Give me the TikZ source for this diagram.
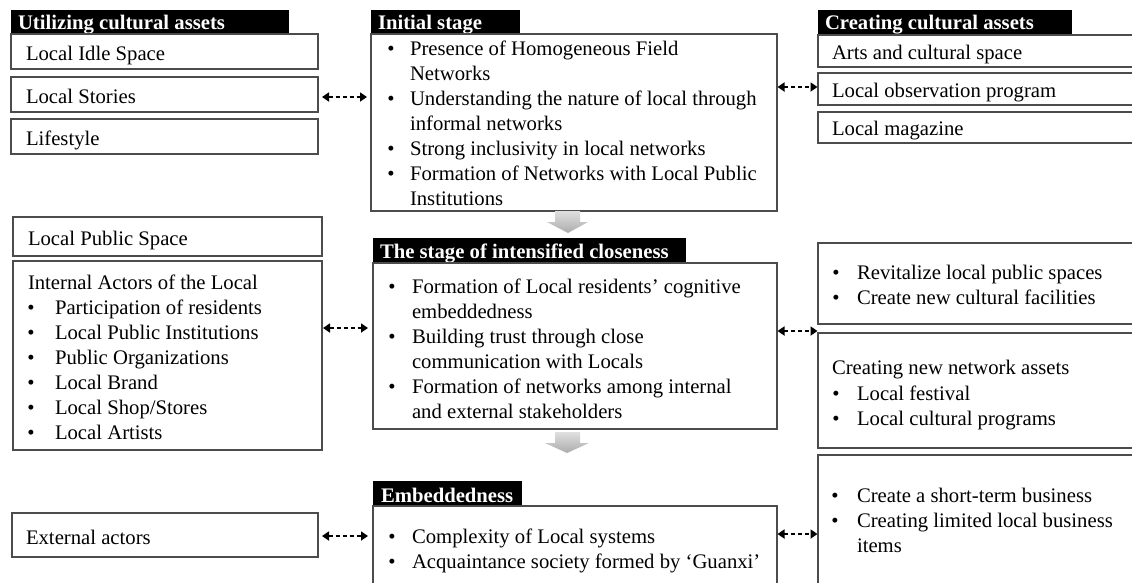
\documentclass[tikz,border=0pt]{standalone}
\usepackage{fontspec}
\setmainfont{Liberation Serif}
\usetikzlibrary{fit,arrows.meta}
\tikzset{
  box/.style={draw=black!70, line width=1.2pt, inner sep=0pt, outer sep=0pt},
  hdrbox/.style={fill=black, draw=none, inner sep=0pt, outer sep=0pt},
  txt/.style={inner sep=0pt, outer sep=0pt, anchor=base west, font=\fontsize{20.7}{25}\selectfont},
  htxt/.style={txt, text=white, font=\fontsize{20.7}{25}\selectfont\bfseries},
  bul/.style={inner sep=0pt, outer sep=0pt, anchor=base, font=\fontsize{20.7}{25}\selectfont},
  dar/.style={{Triangle[length=7pt,width=9pt]}-{Triangle[length=7pt,width=9pt]}, line width=1.8pt, dash pattern=on 4pt off 3pt},
  garrow/.style={top color=gray!25, bottom color=gray!65, draw=none}
}
\newcommand{\bx}[5]{\node[box, fit={(#2,#3) (#4,#5)}] (#1) {};}
\newcommand{\hb}[5]{\node[hdrbox, fit={(#2,#3) (#4,#5)}] (#1) {};}
\begin{document}
\begin{tikzpicture}[x=1pt, y=-1pt]
\useasboundingbox (0,0) rectangle (1132,582);
\clip (0,0) rectangle (1132,582);
% ---------- left column
\hb{hutil}{11}{10}{289}{34}
\node[htxt] (thutil) at (18,29) {Utilizing cultural assets};
\bx{idle}{11}{34}{318}{69}
\node[txt] (tidle) at (26,60) {Local Idle Space};
\bx{stories}{11}{77}{318}{112}
\node[txt] (tstories) at (26,103) {Local Stories};
\bx{life}{11}{119}{318}{154}
\node[txt] (tlife) at (26,145) {Lifestyle};

\bx{pubspace}{13}{217}{322}{256}
\node[txt] (tpub) at (28,245) {Local Public Space};
\bx{internal}{13}{261}{322}{450}
\node[txt] (tint) at (28,289) {Internal Actors of the Local};
\foreach \t [count=\i] in {Participation of residents, Local Public Institutions, Public Organizations, Local Brand, Local Shop/Stores, Local Artists}{
  \node[bul] (bi\i) at (31,289+25*\i) {•};
  \node[txt] (ti\i) at (55,289+25*\i) {\t};
}
\bx{external}{12}{513}{318}{557}
\node[txt] (text) at (26,544) {External actors};

% ---------- middle column
\hb{hinit}{371}{10}{520}{34}
\node[htxt] (thinit) at (378,29) {Initial stage};
\bx{initial}{371}{34}{777}{211}
\node[bul] (bn1) at (391,55) {•};
\node[txt] (tn1) at (410,55) {Presence of Homogeneous Field};
\node[txt] (tn1b) at (410,80) {Networks};
\node[bul] (bn2) at (391,105) {•};
\node[txt] (tn2) at (410,105) {Understanding the nature of local through};
\node[txt] (tn2b) at (410,130) {informal networks};
\node[bul] (bn3) at (391,155) {•};
\node[txt] (tn3) at (410,155) {Strong inclusivity in local networks};
\node[bul] (bn4) at (391,180) {•};
\node[txt] (tn4) at (410,180) {Formation of Networks with Local Public};
\node[txt] (tn4b) at (410,205) {Institutions};

\hb{hclose}{373}{238}{686}{263}
\node[htxt] (thclose) at (380,258) {The stage of intensified closeness};
\bx{close}{373}{263}{777}{429}
\node[bul] (bc1) at (392,293) {•};
\node[txt] (tc1) at (412,293) {Formation of Local residents’ cognitive};
\node[txt] (tc1b) at (412,318) {embeddedness};
\node[bul] (bc2) at (392,343) {•};
\node[txt] (tc2) at (412,343) {Building trust through close};
\node[txt] (tc2b) at (412,368) {communication with Locals};
\node[bul] (bc3) at (392,393) {•};
\node[txt] (tc3) at (412,393) {Formation of networks among internal};
\node[txt] (tc3b) at (412,418) {and external stakeholders};

\hb{hemb}{373}{481}{522}{506}
\node[htxt] (themb) at (381,502) {Embeddedness};
\bx{emb}{373}{506}{777}{600}
\node[bul] (be1) at (392,543) {•};
\node[txt] (te1) at (412,543) {Complexity of Local systems};
\node[bul] (be2) at (392,568) {•};
\node[txt] (te2) at (412,568) {Acquaintance society formed by ‘Guanxi’};

% gray down arrows
\shade[garrow] (555,211) -- (580,211) -- (580,222) -- (588,222) -- (568,233) -- (547,222) -- (555,222) -- cycle;
\shade[garrow] (555,432) -- (580,432) -- (580,443) -- (589,443) -- (567,453) -- (545,443) -- (555,443) -- cycle;

% ---------- right column
\hb{hcreate}{818}{10}{1072}{35}
\node[htxt] (thcreate) at (825,29) {Creating cultural assets};
\bx{arts}{818}{35}{1145}{67}
\node[txt] (tarts) at (832,59) {Arts and cultural space};
\bx{obs}{818}{73}{1145}{105}
\node[txt] (tobs) at (832,97) {Local observation program};
\bx{mag}{818}{112}{1145}{143}
\node[txt] (tmag) at (832,135) {Local magazine};

\bx{revit}{818}{243}{1145}{324}
\node[bul] (br1) at (836,279) {•};
\node[txt] (tr1) at (857,279) {Revitalize local public spaces};
\node[bul] (br2) at (836,304) {•};
\node[txt] (tr2) at (857,304) {Create new cultural facilities};
\bx{network}{818}{333}{1145}{448}
\node[txt] (tnw) at (832,374) {Creating new network assets};
\node[bul] (bw1) at (836,400) {•};
\node[txt] (tw1) at (857,400) {Local festival};
\node[bul] (bw2) at (836,425) {•};
\node[txt] (tw2) at (857,425) {Local cultural programs};
\bx{business}{818}{455}{1145}{600}
\node[bul] (bb1) at (835,502) {•};
\node[txt] (tb1) at (857,502) {Create a short-term business};
\node[bul] (bb2) at (835,527) {•};
\node[txt] (tb2) at (857,527) {Creating limited local business};
\node[txt] (tb2b) at (857,552) {items};

% ---------- dashed double arrows
\coordinate (y1) at (0,97);
\coordinate (y2) at (0,87);
\coordinate (y3) at (0,328);
\coordinate (y4) at (0,331);
\coordinate (y5) at (0,536);
\coordinate (y6) at (0,534);
\draw[dar, shorten <=4pt, shorten >=4pt] (stories.east |- y1) -- (initial.west |- y1);
\draw[dar, shorten <=0.5pt, shorten >=0.5pt] (initial.east |- y2) -- (obs.west |- y2);
\draw[dar, shorten <=1pt, shorten >=5pt] (internal.east |- y3) -- (close.west |- y3);
\draw[dar, shorten <=0.5pt, shorten >=0.5pt] (close.east |- y4) -- (network.west |- y4);
\draw[dar, shorten <=4pt, shorten >=5pt] (external.east |- y5) -- (emb.west |- y5);
\draw[dar, shorten <=0.5pt, shorten >=0.5pt] (emb.east |- y6) -- (business.west |- y6);
\end{tikzpicture}
\end{document}
